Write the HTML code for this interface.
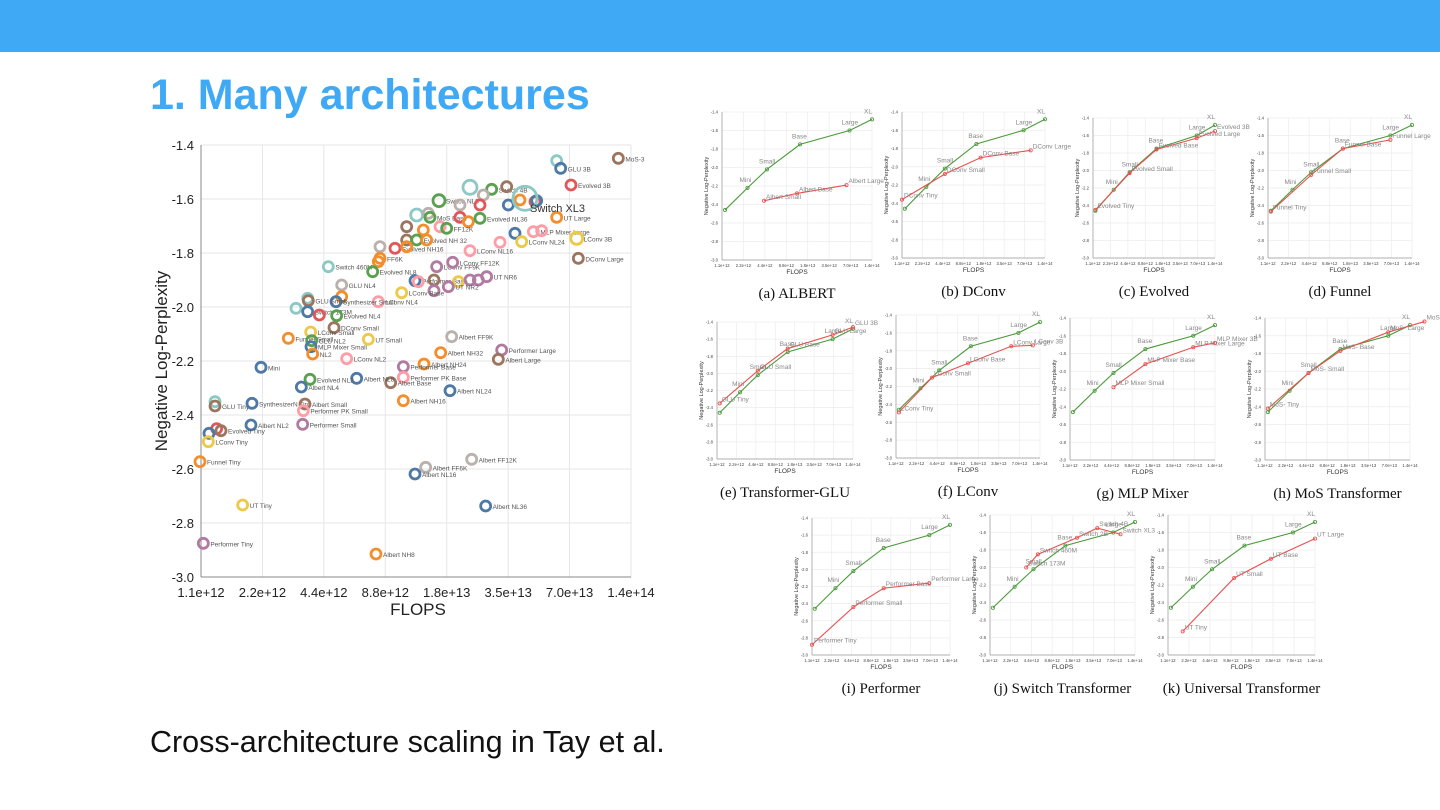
<!DOCTYPE html>
<html><head><meta charset="utf-8">
<style>
body{margin:0;width:1440px;height:810px;background:#fff;overflow:hidden;position:relative;font-family:"Liberation Sans",sans-serif}
.bar{position:absolute;left:0;top:0;width:1440px;height:52px;background:#3fa9f5}
.title{position:absolute;left:150px;top:71px;font-size:43px;font-weight:bold;color:#3fa9f5}
.foot{position:absolute;left:150px;top:725px;font-size:30.5px;color:#111}
svg{position:absolute;left:0;top:0}
.cap{font-family:"Liberation Serif",serif;font-size:15px;fill:#111}
</style></head><body>
<div class="bar"></div>
<div class="title">1. Many architectures</div>
<div class="foot">Cross-architecture scaling in Tay et al.</div>
<svg id="s" width="1440" height="810" xmlns="http://www.w3.org/2000/svg"></svg>
<script>
var s=document.getElementById('s'),h='';
var X0=201,X1=631,Y0=145,Y1=577;
var xt=['1.1e+12','2.2e+12','4.4e+12','8.8e+12','1.8e+13','3.5e+13','7.0e+13','1.4e+14'];
for(var i=0;i<8;i++){var x=X0+i*(X1-X0)/7;h+='<line x1="'+x+'" y1="'+Y0+'" x2="'+x+'" y2="'+Y1+'" stroke="#e6e6e6"/>';h+='<text x="'+x+'" y="597" font-size="13" text-anchor="middle" fill="#222">'+xt[i]+'</text>';}
for(var i=0;i<=8;i++){var y=Y0+i*(Y1-Y0)/8;h+='<line x1="'+X0+'" y1="'+y+'" x2="'+X1+'" y2="'+y+'" stroke="#e6e6e6"/>';h+='<text x="194" y="'+(y+5)+'" font-size="13" text-anchor="end" fill="#222">'+(-1.4-0.2*i).toFixed(1)+'</text>';}
h+='<line x1="'+X0+'" y1="'+Y0+'" x2="'+X0+'" y2="'+Y1+'" stroke="#888"/><line x1="'+X0+'" y1="'+Y1+'" x2="'+X1+'" y2="'+Y1+'" stroke="#888"/>';
h+='<text x="418" y="615" font-size="17" text-anchor="middle" fill="#222">FLOPS</text>';
h+='<text transform="translate(167,361) rotate(-90)" font-size="17" text-anchor="middle" fill="#222">Negative Log-Perplexity</text>';
var C={t:'#8cc8c4',b:'#4e79a7',o:'#f28e2b',r:'#e15759',g:'#59a14f',y:'#edc948',p:'#b07aa1',k:'#ff9da7',n:'#9c755f',a:'#bab0ac'};
var P=[[1435,85,'n','MoS-3'],[1250,92,'t',''],[1262,115,'b','GLU 3B'],[1293,165,'r','Evolved 3B'],[990,172,'t','',7],[1055,178,'g','Switch 4B'],[1100,170,'n',''],[1030,195,'a',''],
[1140,210,'o',''],[1185,215,'r',''],[1190,212,'b',''],[897,212,'g','Switch NL8',6],[960,225,'a',''],[1020,225,'r',''],[1105,225,'b',''],[1250,262,'o','UT Large'],
[830,255,'t','',6],[865,250,'a',''],[870,262,'g','MoS Base'],[960,262,'r',''],[985,275,'o',''],[1020,265,'g','Evolved NL36'],[800,290,'n',''],[900,290,'k',''],[920,295,'g','FF12K'],[850,300,'o',''],
[1125,310,'b',''],[1180,305,'k','MLP Mixer Large'],[1205,302,'k',''],[1310,325,'y','LConv 3B',6],[1145,335,'y','LConv NL24'],[1080,337,'k',''],[800,330,'n',''],[830,330,'g','Evolved NH 32'],[860,330,'o',''],
[720,350,'a',''],[765,355,'r','Evolved NH16'],[800,350,'o',''],[720,385,'o','FF6K'],[715,395,'o',''],[990,362,'k','LConv NL16'],[1315,385,'n','DConv Large'],
[565,410,'t','Switch 460M'],[698,425,'g','Evolved NL8'],[890,410,'p','LConv FF9K'],[938,397,'p','LConv FF12K'],[825,452,'b','Performer Base'],[835,455,'k',''],[882,450,'n',''],[955,455,'y',''],[990,450,'p',''],[1015,450,'p',''],[1040,440,'p','UT NR6'],
[882,482,'p',''],[925,470,'p','UT NR2'],[785,488,'y','LConv Base'],[605,465,'a','GLU NL4'],[605,500,'o',''],[715,515,'k','LConv NL4'],[588,515,'b','Synthesizer Small'],[503,505,'t',''],[505,512,'n','GLU Small'],[468,535,'t',''],[503,545,'b','Switch 173M'],[538,555,'r',''],[590,557,'g','Evolved NL4'],
[582,593,'n','DConv Small'],[512,606,'y','LConv Small'],[445,625,'o','Funnel Small'],[515,632,'g','GLU NL2'],[513,650,'b','MLP Mixer Small'],[518,672,'o','NL2'],[685,628,'y','UT Small'],[620,686,'k','LConv NL2'],
[935,620,'a','Albert FF9K'],[902,668,'o','Albert NH32'],[1085,660,'p','Performer Large'],[1075,688,'n','Albert Large'],[852,702,'o','Albert NH24'],[790,710,'p','Performer Base'],[790,742,'k','Performer PK Base'],[752,758,'n','Albert Base'],
[650,745,'b','Albert NL8'],[510,748,'g','Evolved NL2'],[484,771,'b','Albert NL4'],[930,782,'b','Albert NL24'],[790,812,'o','Albert NH16'],[363,712,'b','Mini'],
[225,815,'t',''],[225,828,'n','GLU Tiny'],[336,820,'b','SynthesizerN Tiny'],[495,822,'n','Albert Small'],[490,842,'k','Performer PK Small'],[488,883,'p','Performer Small'],
[333,885,'b','Albert NL2'],[230,896,'r',''],[243,902,'n','Evolved Tiny'],[207,910,'b',''],[205,935,'y','LConv Tiny'],[180,995,'o','Funnel Tiny'],
[995,988,'a','Albert FF12K'],[857,1012,'a','Albert FF6K'],[825,1032,'b','Albert NL16'],[1037,1128,'b','Albert NL36'],[308,1125,'y','UT Tiny'],[190,1240,'p','Performer Tiny'],[708,1272,'o','Albert NH8'],
[1155,205,'t','',12]];
P.forEach(function(p){var x=140+p[0]/3,y=130+p[1]/3,r=p[4]||5;
h+='<circle cx="'+x+'" cy="'+y+'" r="'+r+'" fill="none" stroke="'+C[p[2]]+'" stroke-width="2.8"/>';
if(p[3])h+='<text x="'+(x+7)+'" y="'+(y+3)+'" font-size="6.5" fill="#555">'+p[3]+'</text>';});
h+='<text x="530" y="212" font-size="11" fill="#333">Switch XL3</text>';
var G=[[0.02,-2.46],[0.17,-2.22],[0.3,-2.02],[0.52,-1.75],[0.85,-1.6],[1.0,-1.48]];
var GL=['','Mini','Small','Base','Large','XL'];
var panels=[
[722,872,112,260,'(a) ALBERT',[[0.28,-2.36],[0.5,-2.28],[0.83,-2.19]],['Albert Small','Albert Base','Albert Large']],
[902,1045,112,258,'(b) DConv',[[0.0,-2.36],[0.3,-2.08],[0.55,-1.9],[0.9,-1.82]],['DConv Tiny','DConv Small','DConv Base','DConv Large']],
[1093,1215,118,258,'(c) Evolved',[[0.02,-2.45],[0.3,-2.03],[0.52,-1.76],[0.85,-1.63],[1.0,-1.55]],['Evolved Tiny','Evolved Small','Evolved Base','Evolved Large','Evolved 3B']],
[1268,1412,118,258,'(d) Funnel',[[0.02,-2.47],[0.3,-2.05],[0.52,-1.75],[0.85,-1.65]],['Funnel Tiny','Funnel Small','Funnel Base','Funnel Large']],
[717,853,322,459,'(e) Transformer-GLU',[[0.02,-2.35],[0.3,-1.97],[0.52,-1.71],[0.85,-1.55],[1.0,-1.46]],['GLU Tiny','GLU Small','GLU Base','GLU Large','GLU 3B']],
[896,1040,315,458,'(f) LConv',[[0.02,-2.49],[0.25,-2.1],[0.5,-1.94],[0.8,-1.75],[0.95,-1.74]],['LConv Tiny','LConv Small','LConv Base','LConv Large','LConv 3B']],
[1070,1215,318,460,'(g) MLP Mixer',[[0.3,-2.18],[0.52,-1.92],[0.85,-1.73],[1.0,-1.68]],['MLP Mixer Small','MLP Mixer Base','MLP Mixer Large','MLP Mixer 3B']],
[1265,1410,318,460,'(h) MoS Transformer',[[0.02,-2.42],[0.3,-2.02],[0.52,-1.77],[0.85,-1.56],[1.1,-1.44]],['MoS- Tiny','MoS- Small','MoS- Base','MoS- Large','MoS- 3']],
[812,950,518,655,'(i) Performer',[[0.0,-2.88],[0.3,-2.44],[0.52,-2.22],[0.85,-2.16]],['Performer Tiny','Performer Small','Performer Base','Performer Large']],
[990,1135,515,655,'(j) Switch Transformer',[[0.25,-2.0],[0.33,-1.85],[0.6,-1.66],[0.74,-1.55],[0.9,-1.62]],['Switch 173M','Switch 460M','Switch 2B','Switch 4B','Switch XL3']],
[1168,1315,515,655,'(k) Universal Transformer',[[0.1,-2.73],[0.45,-2.12],[0.7,-1.9],[1.0,-1.67]],['UT Tiny','UT Small','UT Base','UT Large']]];
panels.forEach(function(q){var x0=q[0],x1=q[1],y0=q[2],y1=q[3],w=x1-x0,ht=y1-y0;
function X(v){return x0+v*w;}function Y(v){return y0+(-1.4-v)/1.6*ht;}
for(var i=0;i<8;i++){var x=x0+i*w/7;h+='<line x1="'+x+'" y1="'+y0+'" x2="'+x+'" y2="'+y1+'" stroke="#ececec" stroke-width="0.7"/><text x="'+x+'" y="'+(y1+7)+'" font-size="4.2" text-anchor="middle" fill="#444">'+xt[i]+'</text>';}
for(var i=0;i<=8;i++){var y=y0+i*ht/8;h+='<line x1="'+x0+'" y1="'+y+'" x2="'+x1+'" y2="'+y+'" stroke="#ececec" stroke-width="0.7"/><text x="'+(x0-4)+'" y="'+(y+1.5)+'" font-size="4.2" text-anchor="end" fill="#444">'+(-1.4-0.2*i).toFixed(1)+'</text>';}
h+='<line x1="'+x0+'" y1="'+y0+'" x2="'+x0+'" y2="'+y1+'" stroke="#999" stroke-width="0.7"/><line x1="'+x0+'" y1="'+y1+'" x2="'+x1+'" y2="'+y1+'" stroke="#999" stroke-width="0.7"/>';
h+='<text x="'+((x0+x1)/2)+'" y="'+(y1+14)+'" font-size="6.5" text-anchor="middle" fill="#333">FLOPS</text>';
h+='<text transform="translate('+(x0-14)+','+((y0+y1)/2)+') rotate(-90)" font-size="5.5" text-anchor="middle" fill="#333">Negative Log-Perplexity</text>';
var pg=G.map(function(p){return X(p[0])+','+Y(p[1]);}).join(' ');
h+='<polyline points="'+pg+'" fill="none" stroke="#4a9a3a" stroke-width="1.1"/>';
G.forEach(function(p,i){h+='<circle cx="'+X(p[0])+'" cy="'+Y(p[1])+'" r="1.6" fill="none" stroke="#4a9a3a" stroke-width="0.8"/>';if(GL[i])h+='<text x="'+(X(p[0])-8)+'" y="'+(Y(p[1])-6)+'" font-size="6.5" fill="#888">'+GL[i]+'</text>';});
var pr=q[5].map(function(p){return X(p[0])+','+Y(p[1]);}).join(' ');
h+='<polyline points="'+pr+'" fill="none" stroke="#e8504f" stroke-width="1.1"/>';
q[5].forEach(function(p,i){h+='<circle cx="'+X(p[0])+'" cy="'+Y(p[1])+'" r="1.6" fill="none" stroke="#e8504f" stroke-width="0.8"/><text x="'+(X(p[0])+2)+'" y="'+(Y(p[1])-2)+'" font-size="6.5" fill="#888">'+q[6][i]+'</text>';});
h+='<text class="cap" x="'+((x0+x1)/2)+'" y="'+(y1+38)+'" text-anchor="middle">'+q[4]+'</text>';
});
s.innerHTML=h;
</script>
</body></html>
